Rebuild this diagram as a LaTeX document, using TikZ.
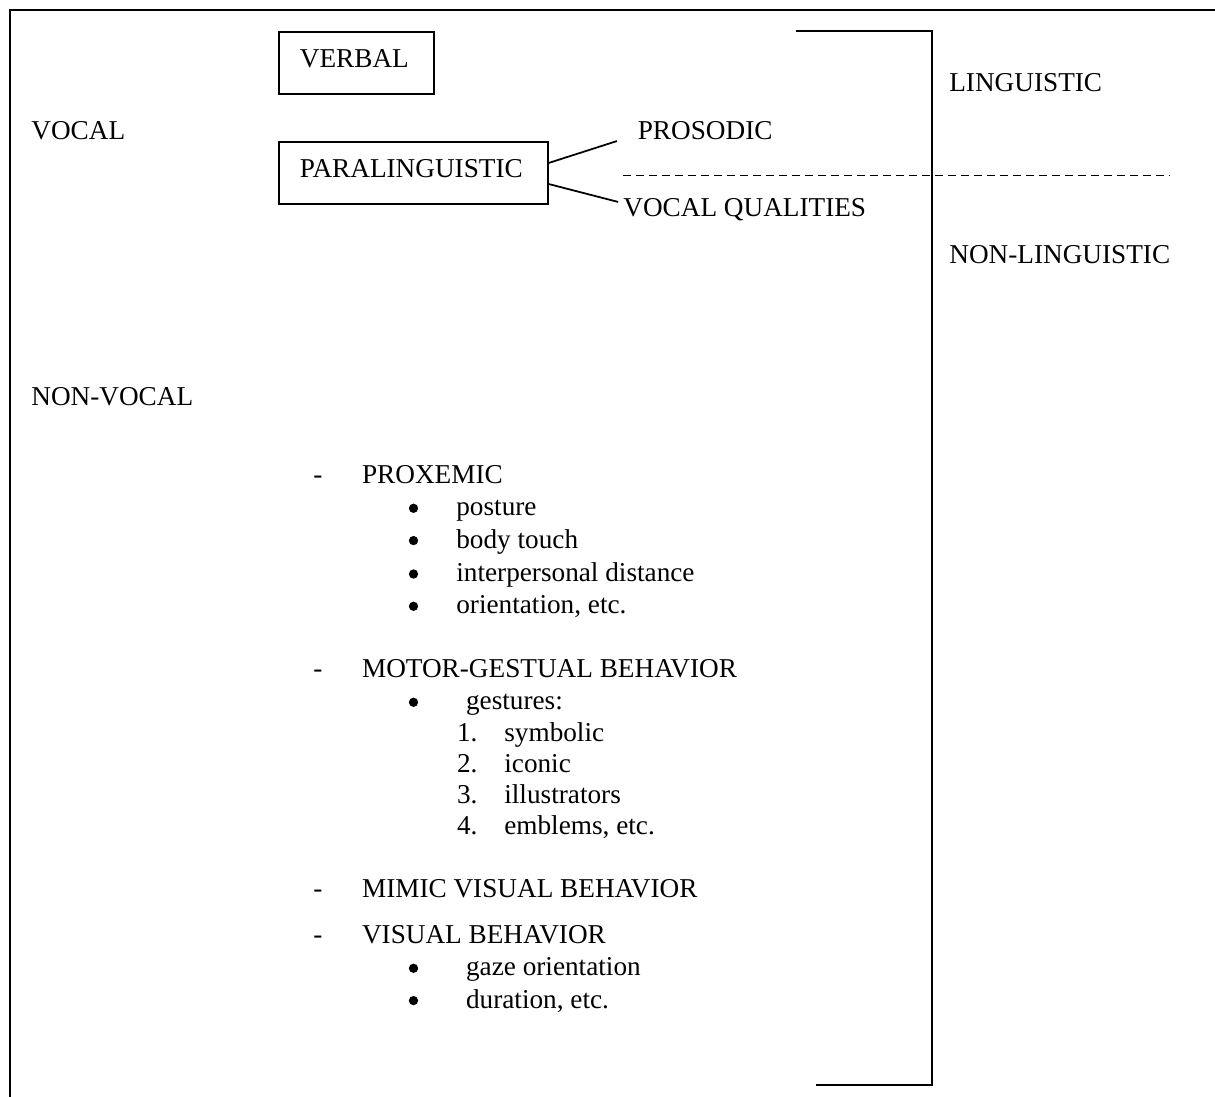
\documentclass[tikz,border=0pt]{standalone}
\usepackage{fontspec}
\setmainfont{Liberation Serif}
\usepackage{tikz}
\usetikzlibrary{positioning}

\begin{document}
\begin{tikzpicture}[x=0.02cm, y=-0.02cm,
  every node/.style={font=\fontsize{15.5pt}{18pt}\selectfont},
  lbl/.style={anchor=base west, inner sep=0pt},
  dot/.style={circle, fill, inner sep=0pt, minimum size=5.3pt},
  box/.style={draw, line width=1.1pt, anchor=north west, inner xsep=11.9pt, align=left,
    minimum height=35.3pt, text height=10.3pt, text depth=4.6pt},
  rule/.style={line width=1.1pt}]
\useasboundingbox (0,0) rectangle (1215,1097);

% frame and bracket
\draw[rule] (10,1097) -- (10,10) -- (1215,10);
\draw[rule] (796,31) -- (932,31) -- (932,1085) -- (816,1085);
\draw[line width=1pt, dash pattern=on 4.4pt off 3pt] (623,175.5) -- (1170,175.5);

\node[box, text width=64.6pt](verbal) at (278,31) {VERBAL};
\node[box, text width=129.2pt](para) at (278,141) {PARALINGUISTIC};

\node[lbl](vocal) at (31,139.5) {VOCAL};
\node[lbl](nonvocal) at (31,405.7) {NON-VOCAL};
\node[lbl](pros) at (637.5,139.3) {PROSODIC};
\node[lbl](vq) at (623,216.7) {VOCAL QUALITIES};
\node[lbl](ling) at (949,91.7) {LINGUISTIC};
\node[lbl](nonling) at (949,263.3) {NON-LINGUISTIC};

\draw[line width=1pt] ([yshift=5.7pt]para.east) -- ([xshift=-11.7pt,yshift=-1pt]pros.base west);
\draw[line width=1pt] ([yshift=-6.3pt]para.east) -- ([xshift=-2.8pt,yshift=8.4pt]vq.base west);

% main list
\foreach \y/\t/\n in {483.3/PROXEMIC/prox, 677.3/MOTOR-GESTUAL BEHAVIOR/motor,
    897.3/MIMIC VISUAL BEHAVIOR/mimic, 943.3/VISUAL BEHAVIOR/visual}
	{\node[lbl](d-\n) at (313,\y) {-};
	\node[lbl](\n) at (361.7,\y) {\t};}

\foreach \y/\t/\n in {516/posture/b1, 548.3/body touch/b2,
    581.7/interpersonal distance/b3, 614/{orientation, etc.}/b4}
	{\node[dot](d-\n) at (413.5,\y-7.7) {};
	\node[lbl](\n) at (456,\y) {\t};}

\foreach \y/\t/\n in {710/gestures:/g1, 976/gaze orientation/g2, 1008.3/{duration, etc.}/g3}
	{\node[dot](d-\n) at (413.5,\y-7.7) {};
	\node[lbl](\n) at (465.7,\y) {\t};}

\foreach \y/\t/\i in {741.7/symbolic/1, 772.7/iconic/2, 803.3/illustrators/3, 835/{emblems, etc.}/4}
	{\node[lbl](n\i) at (456.7,\y) {\i.};
	\node[lbl](s\i) at (504,\y) {\t};}

\end{tikzpicture}
\end{document}
